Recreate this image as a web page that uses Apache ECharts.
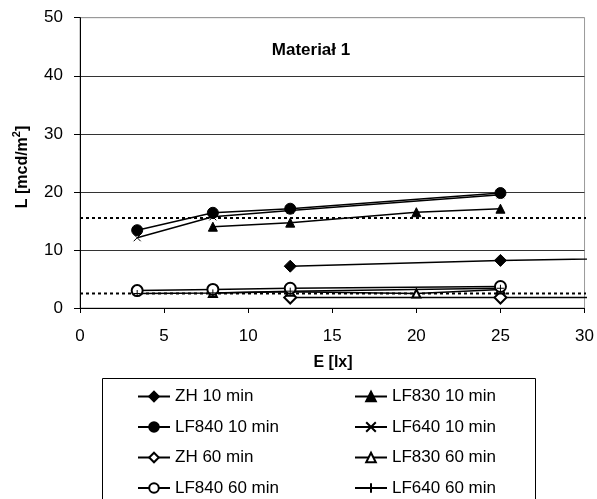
<!DOCTYPE html>
<html><head><meta charset="utf-8">
<script src="https://cdn.jsdelivr.net/npm/echarts@6/dist/echarts.min.js"></script>
<style>html,body{margin:0;padding:0;background:#fff}#c{width:597px;height:499px}</style>
</head><body><div id="c"></div>
<script>
// ---- data ----
const seriesNames = ['ZH 10 min','LF830 10 min','LF840 10 min','LF640 10 min','ZH 60 min','LF830 60 min','LF840 60 min','LF640 60 min'];
const zh10     = [[12.5,7.2],[25,8.2],[50,9.3]];
const lf830_10 = [[7.9,14.0],[12.5,14.7],[20,16.5],[25,17.1]];
const lf840_10 = [[3.4,13.4],[7.9,16.4],[12.5,17.1],[25,19.8]];
const lf640_10 = [[3.4,12.1],[7.9,15.7],[12.5,16.8],[25,19.5]];
const zh60     = [[12.5,1.8],[25,1.8],[50,1.8]];
const lf830_60 = [[7.9,2.6],[12.5,2.8],[20,2.5],[25,3.2]];
const lf840_60 = [[3.4,3.0],[7.9,3.2],[12.5,3.4],[25,3.7]];
const lf640_60 = [[3.4,2.5],[7.9,2.6],[12.5,2.9],[25,3.4]];
const refLevels = [15.5, 2.5];
const refXRange = [0, 30.5];
const xTicks = [0,5,10,15,20,25,30];
const yTicks = [0,10,20,30,40,50];
const titleText = 'Materiał 1';
const xName = 'E [lx]';
const yNameMain = 'L [mcd/m';
const yNameSup = '2';
const yNameEnd = ']';

const FONT = '"Liberation Sans", Arial, sans-serif';
const crossPath = 'path://M0,0L10,10M10,0L0,10';
const plusPath = 'path://M5,0L5,10M0,5L10,5';

function ser(name, data, symbol, size, extra) {
  return Object.assign({
    name: name, type: 'line', data: data, symbol: symbol, symbolSize: size,
    showAllSymbol: true,
    lineStyle: {color: '#000', width: 1.5},
    itemStyle: {color: '#000', borderColor: '#000', borderWidth: 1},
    emphasis: {disabled: true}, z: 3
  }, extra || {});
}

const series = [];
refLevels.forEach(function (v) {
  series.push({
    type: 'line', data: refXRange.map(function (x) { return [x, v]; }),
    symbol: 'none', clip: false, silent: true,
    lineStyle: {color: '#000', width: 2, type: [3, 3]}, z: 2
  });
});
series.push(ser(seriesNames[0], zh10, 'diamond', 12, {clip: false}));
series.push(ser(seriesNames[1], lf830_10, 'triangle', 9));
series.push(ser(seriesNames[2], lf840_10, 'circle', 11));
series.push(ser(seriesNames[3], lf640_10, crossPath, 7));
series.push(ser(seriesNames[4], zh60, 'emptyDiamond', 12, {clip: false}));
series.push(ser(seriesNames[5], lf830_60, 'emptyTriangle', 8));
series.push(ser(seriesNames[6], lf840_60, 'emptyCircle', 11));
series.push(ser(seriesNames[7], lf640_60, plusPath, 7));

const legendBase = {
  orient: 'vertical', top: 388, itemWidth: 32, itemHeight: 12, itemGap: 13.5,
  padding: 0, selectedMode: false,
  textStyle: {fontSize: 17, color: '#000', fontFamily: FONT, lineHeight: 17}
};

const chart = echarts.init(document.getElementById('c'), null, {renderer: 'canvas'});
chart.setOption({
  animation: false,
  backgroundColor: '#fff',
  textStyle: {fontFamily: FONT},
  grid: {left: 80, right: 11, top: 17.7, bottom: 191, show: true, borderColor: '#999', borderWidth: 1},
  xAxis: {
    type: 'value', min: xTicks[0], max: xTicks[xTicks.length - 1], interval: 5,
    axisLine: {show: true, onZero: false, lineStyle: {color: '#000', width: 1}},
    axisTick: {show: true, length: 5, lineStyle: {color: '#000'}},
    axisLabel: {fontSize: 17, color: '#000', margin: 20, fontFamily: FONT},
    splitLine: {show: false}
  },
  yAxis: {
    type: 'value', min: yTicks[0], max: yTicks[yTicks.length - 1], interval: 10,
    axisLine: {show: true, lineStyle: {color: '#000', width: 1}},
    axisTick: {show: true, length: 6, lineStyle: {color: '#000'}},
    axisLabel: {fontSize: 17, color: '#000', margin: 17, fontFamily: FONT},
    splitLine: {show: true, lineStyle: {color: ['#333','#333','#333','#333','#333','#999'], width: 1}}
  },
  legend: [
    Object.assign({left: 137, data: [seriesNames[0], seriesNames[2], seriesNames[4], seriesNames[6]]}, legendBase),
    Object.assign({left: 354, data: [seriesNames[1], seriesNames[3], seriesNames[5], seriesNames[7]]}, legendBase)
  ],
  graphic: [
    {type: 'rect', shape: {x: 102.5, y: 378.5, width: 433, height: 160}, style: {fill: 'none', stroke: '#000', lineWidth: 1}, z: 0},
    {type: 'text', x: 311, y: 50, style: {text: titleText, font: 'bold 17px ' + FONT, fill: '#000', textAlign: 'center', textVerticalAlign: 'middle'}},
    {type: 'text', x: 333, y: 363, style: {text: xName, font: 'bold 16px ' + FONT, fill: '#000', textAlign: 'center', textVerticalAlign: 'middle'}},
    {type: 'text', x: 21, y: 167, rotation: Math.PI / 2, style: {
      text: '{m|' + yNameMain + '}{s|' + yNameSup + '}{m|' + yNameEnd + '}',
      textAlign: 'center', textVerticalAlign: 'middle', fill: '#000',
      rich: {
        m: {fontSize: 16, fontWeight: 'bold', fontFamily: FONT, lineHeight: 20, verticalAlign: 'bottom'},
        s: {fontSize: 11, fontWeight: 'bold', fontFamily: FONT, lineHeight: 20, verticalAlign: 'top'}
      }
    }}
  ],
  series: series
});
</script></body></html>
